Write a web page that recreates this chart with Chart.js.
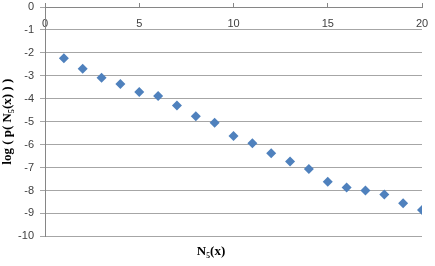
<!DOCTYPE html>
<html>
<head>
<meta charset="utf-8">
<script src="https://cdn.jsdelivr.net/npm/chart.js@4/dist/chart.umd.min.js"></script>
<style>
  html, body { margin: 0; padding: 0; background: #fff; }
  #wrap { width: 435px; height: 266px; position: relative; }
</style>
</head>
<body>
<div id="wrap"><canvas id="chart"></canvas></div>
<script>
// values
const xValues = [1, 2, 3, 4, 5, 6, 7, 8, 9, 10, 11, 12, 13, 14, 15, 16, 17, 18, 19, 20];
const logP = [-2.23, -2.69, -3.08, -3.36, -3.71, -3.88, -4.29, -4.76, -5.05, -5.62,
              -5.94, -6.37, -6.73, -7.06, -7.62, -7.87, -8.0, -8.17, -8.55, -8.85];
const xTicks = [0, 5, 10, 15, 20];
const yTicks = [0, -1, -2, -3, -4, -5, -6, -7, -8, -9, -10];

const xTitle = 'N\u2085(x)';
const yTitle = 'log ( p( N\u2085(x) ) )';

const points = xValues.map((x, i) => ({ x: x, y: logP[i] }));

const tickFont = { family: "'Liberation Sans', Arial, sans-serif", size: 11 };
const titleFont = { family: "'Liberation Serif', 'Times New Roman', serif", size: 13, weight: 'bold' };

new Chart(document.getElementById('chart'), {
    type: 'scatter',
    data: {
        datasets: [{
            data: points,
            pointStyle: 'rectRot',
            pointRadius: 5,
            pointHoverRadius: 5,
            backgroundColor: '#4F81BD',
            borderColor: '#4F81BD',
            borderWidth: 0
        }]
    },
    options: {
        responsive: true,
        maintainAspectRatio: false,
        animation: false,
        layout: { padding: { top: 7, right: 13, bottom: 0, left: 0 } },
        plugins: {
            legend: { display: false },
            tooltip: { enabled: false },
            title: {
                display: true,
                position: 'bottom',
                text: xTitle,
                color: '#000',
                font: titleFont,
                padding: { top: 7, bottom: 7 }
            }
        },
        scales: {
            x: {
                type: 'linear',
                position: { y: 0 },
                min: 0,
                max: 20,
                afterBuildTicks: axis => { axis.ticks = xTicks.map(v => ({ value: v })); },
                afterFit: axis => { axis.paddingLeft = 0; axis.paddingRight = 0; },
                grid: {
                    drawOnChartArea: false,
                    drawTicks: true,
                    tickLength: -5,
                    color: '#868686'
                },
                border: { color: '#868686', width: 1 },
                ticks: {
                    color: '#404040',
                    font: tickFont,
                    padding: 15,
                    maxRotation: 0
                }
            },
            y: {
                type: 'linear',
                position: 'left',
                min: -10,
                max: 0,
                afterBuildTicks: axis => { axis.ticks = yTicks.map(v => ({ value: v })); },
                afterFit: axis => { axis.width = 45; axis.paddingTop = 0; axis.paddingBottom = 0; },
                grid: {
                    color: '#A6A6A6',
                    tickLength: 5
                },
                border: { color: '#868686', width: 1 },
                ticks: {
                    color: '#404040',
                    font: tickFont,
                    padding: 6
                },
                title: {
                    display: true,
                    text: yTitle,
                    color: '#000',
                    font: titleFont,
                    padding: { top: 0, bottom: 0 }
                }
            }
        }
    }
});
</script>
</body>
</html>
